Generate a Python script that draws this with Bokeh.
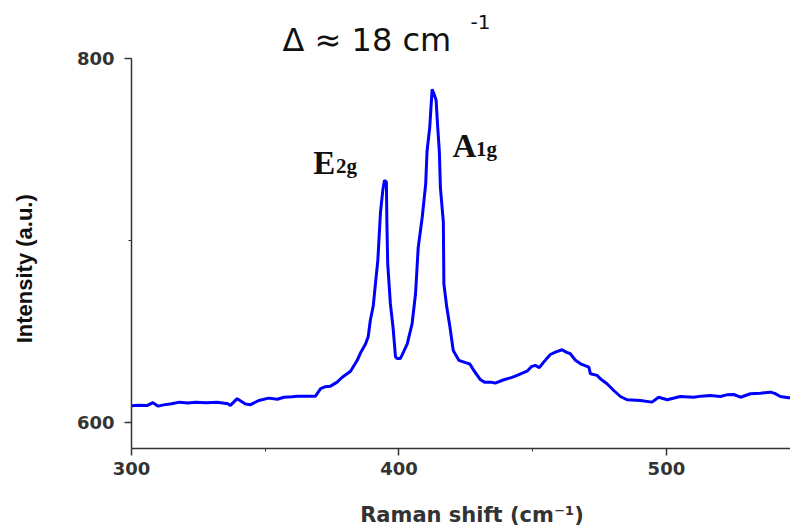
from bokeh.plotting import figure
from bokeh.models import Range1d, FixedTicker, Label, Title
from bokeh.embed import file_html
from bokeh.resources import INLINE

# Raman spectrum
raman_shift = [
    300, 303, 306, 308, 310, 312, 315, 318, 321, 324, 328, 332, 336, 337, 339.5,
    341, 342.6, 344.5, 347.6, 351.3, 354.5, 357, 360, 362, 365, 368.8, 370.7,
    372.5, 374.4, 376.9, 378.8, 381.9, 384.4, 385.6, 387.5, 388.5, 389.3, 390.4,
    391.2, 392.1, 393.1, 394, 394.6, 395.3, 395.5, 395.8, 396.8, 397.8, 398.7,
    399.3, 400.5, 401.2, 403.1, 404.9, 406.2, 407.2, 408.7, 410, 410.5, 411.5,
    412.4, 413, 413.9, 414.5, 415.1, 415.5, 416.6, 416.8, 417.9, 419.1, 420.3,
    422.4, 424.9, 426.5, 428, 430.5, 432, 434.2, 436, 439.2, 442, 444.2, 447.9,
    449.5, 451, 452.5, 454.1, 456.6, 458.5, 461, 462.5, 464.1, 466, 467.9, 471,
    471.6, 474.1, 475.3, 477.8, 480.3, 482.8, 485.3, 490.3, 494.6, 497.1, 500.3,
    505.2, 510.2, 513, 516.4, 520.2, 522.5, 525.2, 527.7, 531.4, 535.2, 538.9,
    540.5, 542.6, 545.7, 548,
]
intensity = [
    609, 609.3, 609.2, 610.7, 608.8, 609.5, 610.1, 611, 610.5, 611, 610.7, 610.9,
    610.1, 609.2, 612.9, 611.5, 610, 609.6, 611.9, 613.2, 612.6, 613.7, 614, 614.3,
    614.3, 614.3, 618.4, 619.5, 619.8, 622, 624.7, 628, 634, 638, 643, 647, 656,
    664, 676, 689, 715.5, 728, 733, 732, 709, 687, 665, 652, 636, 635, 635, 637,
    643, 654, 670.6, 696, 712.7, 731, 749, 762, 783, 781, 777, 762, 749, 729, 710,
    676, 663, 652, 639.4, 634, 632.7, 632, 628.4, 623.3, 622, 622, 621.5, 623.3,
    624.5, 625.7, 628, 630.5, 631.2, 630, 633, 637.2, 638.5, 639.8, 638.5, 637.6,
    634, 632.1, 630.2, 626.6, 625.7, 623.9, 621.1, 617.4, 614.1, 612.3, 611.9, 611,
    613.7, 612.3, 614.1, 613.7, 614.3, 614.7, 614.1, 615, 615.2, 613.7, 615.6,
    615.9, 616.5, 615.8, 614.1, 613.4, 613.5,
]
x_major_ticks = [300, 400, 500]
x_minor_ticks = [350, 450]
y_major_ticks = [600, 800]
y_minor_ticks = [700]

NB = "\u00a0"

p = figure(width=790, height=529, output_backend="svg", toolbar_location=None,
           x_range=Range1d(300, 546.4), y_range=Range1d(585.5, 800),
           min_border_left=131, min_border_right=0, min_border_top=58,
           min_border_bottom=81)
p.outline_line_color = None
p.xgrid.visible = False
p.ygrid.visible = False
p.background_fill_color = "white"
p.border_fill_color = "white"

p.line(raman_shift, intensity, line_color="#0000ff", line_width=3)

for ax in (p.xaxis[0], p.yaxis[0]):
    ax.axis_line_color = "#333333"
    ax.axis_line_width = 1.5
    ax.major_tick_line_color = "#333333"
    ax.minor_tick_line_color = "#333333"
    ax.major_tick_line_width = 1.5
    ax.major_tick_out = 7
    ax.major_tick_in = 0
    ax.minor_tick_out = 3
    ax.minor_tick_in = 0
    ax.major_label_text_font = "DejaVu Sans"
    ax.major_label_text_font_style = "bold"
    ax.major_label_text_font_size = "18px"
    ax.major_label_text_color = "#333333"

p.xaxis.ticker = FixedTicker(ticks=x_major_ticks, minor_ticks=x_minor_ticks)
p.yaxis.ticker = FixedTicker(ticks=y_major_ticks, minor_ticks=y_minor_ticks)
p.xaxis.major_label_standoff = 6
p.yaxis.major_label_standoff = 10

p.xaxis.axis_label = NB * 3 + "Raman shift (cm⁻¹)"
p.xaxis.axis_label_text_font = "DejaVu Sans"
p.xaxis.axis_label_text_font_style = "bold"
p.xaxis.axis_label_text_font_size = "21px"
p.xaxis.axis_label_text_color = "#333333"
p.xaxis.axis_label_standoff = 25

p.yaxis.axis_label = "Intensity (a.u.)" + NB * 5
p.yaxis.axis_label_text_font = "Liberation Sans"
p.yaxis.axis_label_text_font_style = "bold"
p.yaxis.axis_label_text_font_size = "22px"
p.yaxis.axis_label_text_color = "#111111"
p.yaxis.axis_label_standoff = 37

# title: superscript (outer) and main text (nearest to the plot)
p.title.text = "-1"
p.title.text_font = "DejaVu Sans"
p.title.text_font_size = "20px"
p.title.text_font_style = "normal"
p.title.text_color = "#111111"
p.title.align = "left"
p.title.offset = 339
p.title.standoff = -20
p.add_layout(Title(text="Δ ≈ 18 cm", text_font="DejaVu Sans", text_font_size="32px",
                   text_font_style="normal", text_color="#111111", align="left",
                   offset=151, standoff=0), "above")

def lab(x, y, text, size):
    p.add_layout(Label(x=x, y=y, text=text, text_font="Liberation Serif",
                       text_font_size=size, text_font_style="bold",
                       text_color="#111111", text_align="left",
                       text_baseline="alphabetic"))

# peak labels
lab(368.0, 742.5, "E", "33px")
lab(376.5, 741.0, "2g", "21px")
lab(420.0, 752.0, "A", "33px")
lab(428.8, 750.5, "1g", "21px")

open("out.html", "w").write(file_html(p, INLINE))
